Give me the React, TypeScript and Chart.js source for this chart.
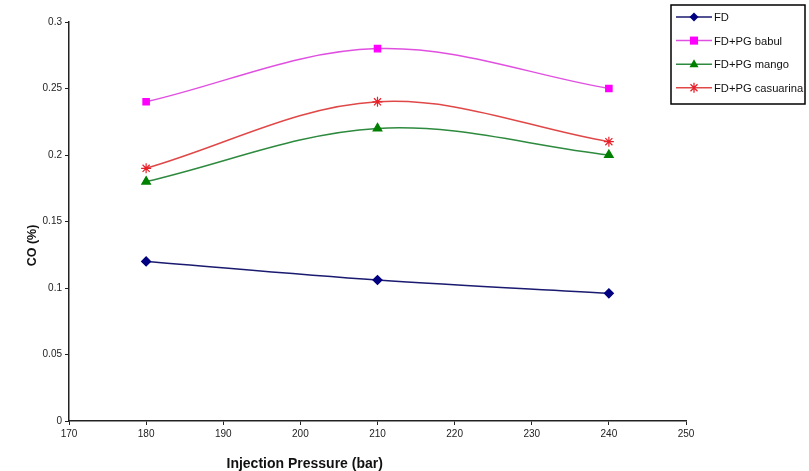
import React, { useEffect, useRef } from "react";
import { Chart, registerables } from "chart.js";

Chart.register(...registerables);

const pressures = [180, 210, 240];
const fd = [0.12, 0.106, 0.096];
const babul = [0.24, 0.28, 0.25];
const mango = [0.18, 0.22, 0.2];
const casuarina = [0.19, 0.24, 0.21];
const seriesNames = ["FD", "FD+PG babul", "FD+PG mango", "FD+PG casuarina"];
const xTitle = "Injection Pressure (bar)";
const yTitle = "CO (%)";

const colors = ["#000080", "#ff00ff", "#008000", "#e8202a"];
const lineColors = ["#1a1a70", "#e050e0", "#2e8a3e", "#e04848"];
const pointStyles = ["rectRot", "rect", "triangle", "star"];
const pointRadii = [4.5, 4.5, 5, 5];

function drawPoint(ctx: CanvasRenderingContext2D, style: string, r: number, x: number, y: number) {
  ctx.beginPath();
  if (style === "rectRot") {
    ctx.moveTo(x, y - r);
    ctx.lineTo(x + r, y);
    ctx.lineTo(x, y + r);
    ctx.lineTo(x - r, y);
    ctx.closePath();
    ctx.fill();
  } else if (style === "rect") {
    const s = r * 0.9;
    ctx.rect(x - s, y - s, 2 * s, 2 * s);
    ctx.fill();
  } else if (style === "triangle") {
    ctx.moveTo(x, y - r);
    ctx.lineTo(x + r * 0.9, y + r * 0.6);
    ctx.lineTo(x - r * 0.9, y + r * 0.6);
    ctx.closePath();
    ctx.fill();
  } else {
    const s = r * 0.7;
    ctx.moveTo(x - s, y - s);
    ctx.lineTo(x + s, y + s);
    ctx.moveTo(x + s, y - s);
    ctx.lineTo(x - s, y + s);
    ctx.moveTo(x, y - r);
    ctx.lineTo(x, y + r);
    ctx.stroke();
  }
}

const legendPlugin = {
  id: "customLegend",
  afterDraw(chart: any) {
    const ctx = chart.ctx;
    const ca = chart.chartArea;
    ctx.save();
    // axis titles
    ctx.fillStyle = "#111";
    ctx.font = "bold 14px 'Liberation Sans', Arial, sans-serif";
    ctx.textAlign = "center";
    ctx.textBaseline = "middle";
    ctx.fillText(xTitle, ca.left + (ca.right - ca.left) * 0.382, ca.bottom + 43);
    ctx.save();
    ctx.translate(ca.left - 36, ca.top + (ca.bottom - ca.top) * 0.56);
    ctx.rotate(-Math.PI / 2);
    ctx.font = "bold 12.5px 'Liberation Sans', Arial, sans-serif";
    ctx.fillText(yTitle, 0, 0);
    ctx.restore();

    // legend box
    const bx = ca.right - 15;
    const by = 5;
    const bw = 134;
    const bh = 99;
    ctx.fillStyle = "#fff";
    ctx.fillRect(bx, by, bw, bh);
    ctx.strokeStyle = "#000";
    ctx.lineWidth = 1.5;
    ctx.strokeRect(bx, by, bw, bh);
    ctx.font = "11.2px 'Liberation Sans', Arial, sans-serif";
    ctx.textAlign = "left";
    chart.data.datasets.forEach((ds: any, i: number) => {
      const y = by + 12 + i * 23.6;
      ctx.strokeStyle = ds.borderColor;
      ctx.lineWidth = 1.5;
      ctx.beginPath();
      ctx.moveTo(bx + 5, y);
      ctx.lineTo(bx + 41, y);
      ctx.stroke();
      ctx.fillStyle = ds.pointBackgroundColor;
      ctx.strokeStyle = ds.pointBorderColor;
      ctx.lineWidth = 1.3;
      drawPoint(ctx, ds.pointStyle, ds.pointRadius, bx + 23, y);
      ctx.fillStyle = "#111";
      ctx.fillText(ds.label, bx + 43, y + 1);
    });
    ctx.restore();
  },
};

export default function App() {
  const ref = useRef<HTMLCanvasElement>(null);
  useEffect(() => {
    const all = [fd, babul, mango, casuarina];
    const chart = new Chart(ref.current!, {
      type: "line",
      data: {
        datasets: all.map((vals, i) => ({
          label: seriesNames[i],
          data: pressures.map((p, j) => ({ x: p, y: vals[j] })),
          borderColor: lineColors[i],
          borderWidth: 1.5,
          pointStyle: pointStyles[i],
          pointRadius: pointRadii[i],
          pointBackgroundColor: colors[i],
          pointBorderColor: colors[i],
          pointBorderWidth: 1.2,
          tension: 0.35,
          fill: false,
        })),
      },
      options: {
        responsive: false,
        animation: false,
        layout: { padding: { left: 0, top: 22, right: 123, bottom: 0 } },
        plugins: { legend: { display: false }, tooltip: { enabled: false }, title: { display: false } },
        scales: {
          x: {
            type: "linear",
            min: 170,
            max: 250,
            border: { color: "#222", width: 1.5 },
            grid: { display: true, drawOnChartArea: false, drawTicks: true, tickLength: 4, color: "#222" },
            ticks: {
              stepSize: 10,
              color: "#222",
              font: { size: 10, family: "'Liberation Sans Narrow', 'Liberation Sans', Arial" },
              padding: 3,
              maxRotation: 0,
            },
            afterFit: (s: any) => {
              s.height = 50;
            },
          },
          y: {
            min: 0,
            max: 0.3,
            border: { color: "#222", width: 1.5 },
            grid: { display: true, drawOnChartArea: false, drawTicks: true, tickLength: 4, color: "#222" },
            ticks: {
              stepSize: 0.05,
              color: "#222",
              font: { size: 10, family: "'Liberation Sans Narrow', 'Liberation Sans', Arial" },
              padding: 3,
              callback: (v: any) => String(Math.round(Number(v) * 100) / 100),
            },
            afterFit: (s: any) => {
              s.width = 69;
            },
          },
        },
      },
      plugins: [legendPlugin],
    } as any);
    return () => chart.destroy();
  }, []);
  return (
    <div style={{ position: "fixed", left: 0, top: 0, width: 809, height: 471, background: "#fff" }}>
      <canvas ref={ref} width={809} height={471} />
    </div>
  );
}
